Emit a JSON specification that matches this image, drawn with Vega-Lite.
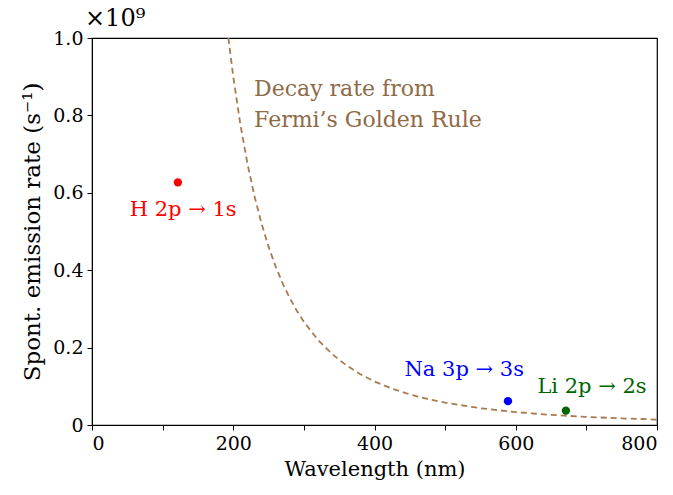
{
  "$schema": "https://vega.github.io/schema/vega-lite/v6.json",
  "autosize": "none",
  "width": 565,
  "height": 387,
  "padding": {"left": 92, "top": 38, "right": 16, "bottom": 70},
  "config": {
    "font": "DejaVu Serif",
    "view": {"stroke": "black", "strokeWidth": 1.2},
    "axis": {"labelFont": "DejaVu Serif", "titleFont": "DejaVu Serif", "labelFontSize": 19, "titleFontSize": 21, "titleFontWeight": "normal", "labelColor": "black", "titleColor": "black", "domainColor": "black", "tickColor": "black", "grid": false, "tickSize": 5}
  },
  "title": {"text": "×10⁹", "anchor": "start", "frame": "group", "fontSize": 24, "fontWeight": "normal", "font": "DejaVu Serif", "offset": -2, "dx": -7},
  "datasets": {
    "curve": [
      {"x": 193.1, "y": 1.0}, {"x": 200, "y": 0.9}, {"x": 210, "y": 0.7775}, {"x": 220, "y": 0.6762},
      {"x": 230, "y": 0.5918}, {"x": 240, "y": 0.5208}, {"x": 250, "y": 0.4608}, {"x": 260, "y": 0.4096},
      {"x": 270, "y": 0.3658}, {"x": 280, "y": 0.328}, {"x": 290, "y": 0.2952}, {"x": 300, "y": 0.2667},
      {"x": 320, "y": 0.2197}, {"x": 340, "y": 0.1832}, {"x": 360, "y": 0.1543}, {"x": 380, "y": 0.1312},
      {"x": 400, "y": 0.1125}, {"x": 425, "y": 0.0938}, {"x": 450, "y": 0.079}, {"x": 475, "y": 0.0672},
      {"x": 500, "y": 0.0576}, {"x": 550, "y": 0.0433}, {"x": 600, "y": 0.0333}, {"x": 650, "y": 0.0262},
      {"x": 700, "y": 0.021}, {"x": 750, "y": 0.0171}, {"x": 800, "y": 0.0141}
    ],
    "points": [
      {"x": 121.6, "y": 0.627, "c": "H"},
      {"x": 589, "y": 0.0616, "c": "Na"},
      {"x": 671, "y": 0.0372, "c": "Li"}
    ],
    "labels": [
      {"x": 129, "y": 0.556, "t": "H 2p → 1s", "c": "H"},
      {"x": 527, "y": 0.142, "t": "Na 3p → 3s", "c": "Na"},
      {"x": 708, "y": 0.098, "t": "Li 2p → 2s", "c": "Li"}
    ],
    "notes": [
      {"x": 229.5, "y": 0.868, "t": "Decay rate from"},
      {"x": 229.5, "y": 0.788, "t": "Fermi’s Golden Rule"}
    ]
  },
  "layer": [
    {
      "data": {"name": "curve"},
      "mark": {"type": "line", "color": "#a87b4e", "strokeDash": [6, 4], "strokeWidth": 1.8, "clip": true},
      "encoding": {
        "x": {"field": "x", "type": "quantitative", "scale": {"domain": [0, 800], "nice": false}, "axis": {"title": "Wavelength (nm)", "values": [0,100,200,300,400,500,600,700,800], "labelExpr": "datum.value % 200 == 0 ? datum.label : ''", "format": "d", "labelPadding": 4, "titlePadding": 5}},
        "y": {"field": "y", "type": "quantitative", "scale": {"domain": [0, 1], "nice": false}, "axis": {"title": "Spont. emission rate (s⁻¹)", "titleFontSize": 23, "values": [0, 0.2, 0.4, 0.6, 0.8, 1.0], "labelExpr": "datum.value == 0 ? '0' : format(datum.value, '.1f')", "labelPadding": 4, "titlePadding": 8}}
      }
    },
    {
      "data": {"name": "points"},
      "mark": {"type": "circle", "size": 70, "opacity": 1},
      "encoding": {
        "x": {"field": "x", "type": "quantitative"},
        "y": {"field": "y", "type": "quantitative"},
        "color": {"field": "c", "type": "nominal", "scale": {"domain": ["H", "Na", "Li"], "range": ["#ff0000", "#0000ff", "#006400"]}, "legend": null}
      }
    },
    {
      "data": {"name": "labels"},
      "mark": {"type": "text", "fontSize": 21, "align": "center", "baseline": "middle", "clip": false},
      "encoding": {
        "x": {"field": "x", "type": "quantitative"},
        "y": {"field": "y", "type": "quantitative"},
        "text": {"field": "t"},
        "color": {"field": "c", "type": "nominal", "scale": {"domain": ["H", "Na", "Li"], "range": ["#ff1a1a", "#2020d0", "#1a5c1a"]}, "legend": null}
      }
    },
    {
      "data": {"name": "notes"},
      "mark": {"type": "text", "fontSize": 22, "align": "left", "baseline": "middle", "color": "#8e6a45"},
      "encoding": {
        "x": {"field": "x", "type": "quantitative"},
        "y": {"field": "y", "type": "quantitative"},
        "text": {"field": "t"}
      }
    }
  ]
}
